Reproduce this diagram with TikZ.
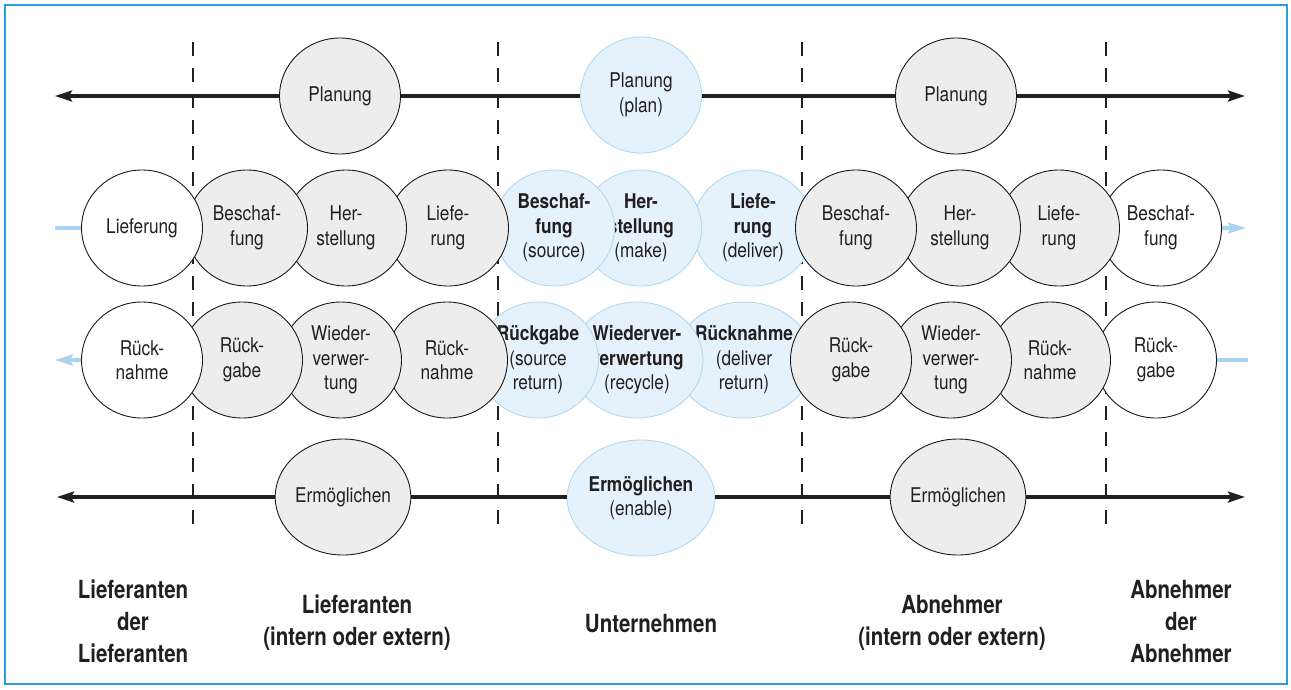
\documentclass[tikz,border=0pt]{standalone}
\usepackage{fontspec}
\setmainfont{TeX Gyre Heros}[FakeStretch=0.85]
\newfontfamily\headfam{TeX Gyre Heros}[FakeStretch=0.82]
\usetikzlibrary{shapes.geometric,arrows.meta}

\definecolor{frameblue}{HTML}{2B9FD9}
\definecolor{bubgray}{HTML}{EDEDED}
\definecolor{bubblue}{HTML}{E6F2FB}
\definecolor{bubline}{HTML}{B3D8F1}
\definecolor{flowblue}{HTML}{A9D4F0}
\definecolor{txt}{HTML}{231F20}

\newcommand\circfont{\fontsize{20.3}{24.5}\selectfont}
\newcommand\headfont{\headfam\fontsize{25}{32}\selectfont\bfseries}

\tikzset{
  bub/.style={ellipse, minimum width=121pt, minimum height=116pt, inner sep=0pt,
    align=center, font=\circfont, text=txt, line width=0.9pt},
  grayb/.style={bub, draw=black!90, fill=bubgray},
  blueb/.style={bub, draw=bubline, fill=bubblue},
  whiteb/.style={bub, draw=black!90, fill=white},
  axis/.style={line width=3.2pt, draw=txt},
  axtip/.style={-{Stealth[length=17pt,width=11pt,inset=3pt]}},
  divider/.style={line width=2.2pt, draw=txt, dash pattern=on 14pt off 12pt},
  flow/.style={line width=4pt, draw=flowblue},
  flowtip/.style={-{Stealth[length=18pt,width=11pt,inset=3pt]}},
  head/.style={align=center, font=\headfont, text=txt},
}

\begin{document}
\begin{tikzpicture}[x=1pt,y=-1pt]
\useasboundingbox (0,0) rectangle (1291,689);

% frame
\draw[frameblue, line width=1.6pt] (5,5) rectangle (1287,684);

% end points of the axes, flow stubs and dividers
\coordinate (topL) at (55,96);
\coordinate (topR) at (1245,96);
\coordinate (botL) at (57,497);
\coordinate (botR) at (1245,497);
\coordinate (inL) at (55,228);
\coordinate (outR) at (1246,228);
\coordinate (retL) at (55,360);
\coordinate (retR) at (1248,360);
\foreach \i/\x in {1/193,2/498,3/802,4/1106}{
  \coordinate (d\i t) at (\x,42);
  \coordinate (d\i b) at (\x,527);
}

% dividers between the tiers
\foreach \i in {1,...,4}{ \draw[divider] (d\i t) -- (d\i b); }

% ---- planning row
\node[grayb] (p1) at (340,96) {Planung};
\node[blueb] (p2) at (641,95) {Planung\\(plan)};
\node[grayb] (p3) at (956,96) {Planung};

% ---- enabling row
\node[grayb] (e1) at (343,497) {Ermöglichen};
\node[blueb] (e2) at (641,498) {\textbf{Ermöglichen}\\(enable)};
\node[grayb] (e3) at (958,497) {Ermöglichen};

% axes between the bubbles
\draw[axis,axtip] (p1) -- (topL);
\draw[axis] (p1.east) -- (p2.west |- p1.east);
\draw[axis] (p2.east |- p3.west) -- (p3.west);
\draw[axis,axtip] (p3) -- (topR);
\draw[axis,axtip] (e1) -- (botL);
\draw[axis] (e1.east) -- (e2.west |- e1.east);
\draw[axis] (e2.east |- e3.west) -- (e3.west);
\draw[axis,axtip] (e3) -- (botR);

% ---- supply row: core processes first, then neighbours right to left
\node[blueb] (a7) at (753,228) {\textbf{Liefe-}\\\textbf{rung}\\(deliver)};
\node[blueb] (a6) at (641,228) {\textbf{Her-}\\\textbf{stellung}\\(make)};
\node[blueb] (a5) at (554,228) {\textbf{Beschaf-}\\\textbf{fung}\\(source)};
\node[whiteb] (a11) at (1161,228) {Beschaf-\\fung};
\node[grayb] (a10) at (1059,228) {Liefe-\\rung};
\node[grayb] (a9) at (960,228) {Her-\\stellung};
\node[grayb] (a8) at (856,228) {Beschaf-\\fung};
\node[grayb] (a4) at (448,228) {Liefe-\\rung};
\node[grayb] (a3) at (346,228) {Her-\\stellung};
\node[grayb] (a2) at (247,228) {Beschaf-\\fung};
\node[whiteb] (a1) at (142,228) {Lieferung};

% ---- return row
\node[blueb] (b7) at (744,360) {\textbf{Rücknahme}\\(deliver\\return)};
\node[blueb] (b6) at (637,360) {\textbf{Wiederver-}\\\textbf{verwertung}\\(recycle)};
\node[blueb] (b5) at (538,360) {\textbf{Rückgabe}\\(source\\return)};
\node[whiteb] (b11) at (1156,360) {Rück-\\gabe};
\node[grayb] (b10) at (1050,360) {Rück-\\nahme};
\node[grayb] (b9) at (951,360) {Wieder-\\verwer-\\tung};
\node[grayb] (b8) at (851,360) {Rück-\\gabe};
\node[grayb] (b4) at (447,360) {Rück-\\nahme};
\node[grayb] (b3) at (341,360) {Wieder-\\verwer-\\tung};
\node[grayb] (b2) at (242,360) {Rück-\\gabe};
\node[whiteb] (b1) at (142,360) {Rück-\\nahme};

% material and return flows
\draw[flow] (inL) -- (a1);
\draw[flow,flowtip] (a11) -- (outR);
\draw[flow,flowtip] (b1) -- (retL);
\draw[flow] (b11) -- (retR);

% ---- tier captions
\node[head] (c1) at (133,621) {Lieferanten\\der\\Lieferanten};
\node[head] (c2) at (357,623) {Lieferanten\\(intern oder extern)};
\node[head] (c3) at (651,624) {Unternehmen};
\node[head] (c4) at (952,623) {Abnehmer\\(intern oder extern)};
\node[head] (c5) at (1181,621) {Abnehmer\\der\\Abnehmer};
\end{tikzpicture}
\end{document}
